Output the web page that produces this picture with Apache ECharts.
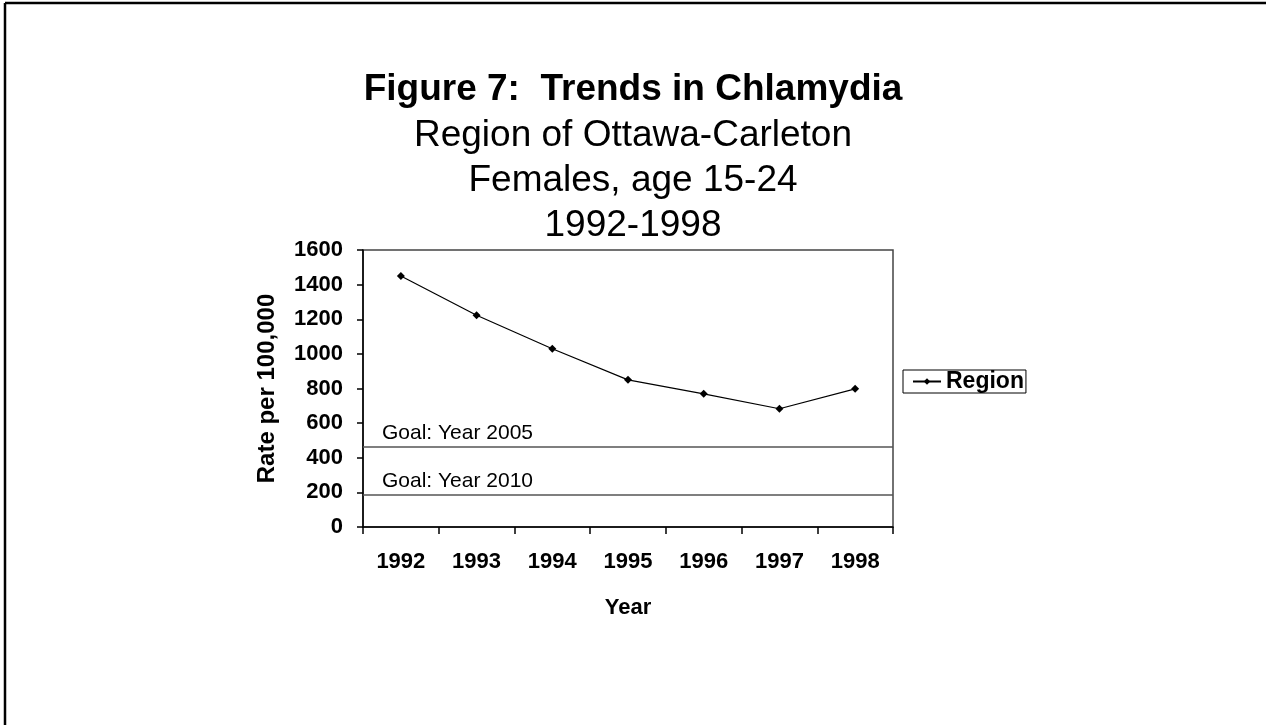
<!DOCTYPE html>
<html>
<head>
<meta charset="utf-8">
<script src="https://cdn.jsdelivr.net/npm/echarts@6/dist/echarts.min.js"></script>
<style>
  html, body { margin: 0; padding: 0; background: #fff; }
  #chart { width: 1266px; height: 725px; }
</style>
</head>
<body>
<div id="chart"></div>
<script>
// Chlamydia rates, females 15-24, Region of Ottawa-Carleton
const years = ['1992', '1993', '1994', '1995', '1996', '1997', '1998'];
const regionRates = [1450, 1223, 1030, 850, 769, 683, 798];
const goalValues = [465, 186];
const goalLabels = ['Goal: Year 2005', 'Goal: Year 2010'];
const yTicks = { min: 0, max: 1600, interval: 200 };

const FONT = '"Liberation Sans", Arial, sans-serif';
const chart = echarts.init(document.getElementById('chart'));

chart.setOption({
  backgroundColor: '#fff',
  animation: false,
  title: [
    { text: 'Figure 7:  Trends in Chlamydia', left: 'center', top: 67, padding: 0,
      textStyle: { fontFamily: FONT, fontSize: 37, fontWeight: 'bold', color: '#000', lineHeight: 45 } },
    { text: 'Region of Ottawa-Carleton\nFemales, age 15-24\n1992-1998', left: 'center', top: 113, padding: 0,
      textStyle: { fontFamily: FONT, fontSize: 37, fontWeight: 'normal', color: '#000', lineHeight: 45 } }
  ],
  graphic: [
    { type: 'line', shape: { x1: 5, y1: 3, x2: 1266, y2: 3 }, style: { stroke: '#000', lineWidth: 2.5 } },
    { type: 'line', shape: { x1: 5, y1: 3, x2: 5, y2: 725 }, style: { stroke: '#000', lineWidth: 2.5 } }
  ],
  legend: {
    left: 903, top: 370,
    orient: 'vertical',
    data: ['Region'],
    borderColor: '#000', borderWidth: 1,
    padding: [0, 2, 0, 9],
    itemWidth: 28, itemHeight: 8,
    textStyle: { fontFamily: FONT, fontSize: 23, fontWeight: 'bold', color: '#000', lineHeight: 23 }
  },
  grid: { left: 363, top: 250, right: 373, bottom: 198, show: true,
    borderColor: '#444', borderWidth: 1.5, backgroundColor: '#fff' },
  xAxis: {
    type: 'category', data: years, boundaryGap: true,
    name: 'Year', nameLocation: 'middle', nameGap: 70,
    nameTextStyle: { fontFamily: FONT, fontSize: 22, fontWeight: 'bold', color: '#000' },
    axisLine: { lineStyle: { color: '#000', width: 1.5 } },
    axisTick: { show: true, length: 7, lineStyle: { color: '#000', width: 1.5 } },
    axisLabel: { fontFamily: FONT, fontSize: 22, fontWeight: 'bold', color: '#000', margin: 24 },
    splitLine: { show: false }
  },
  yAxis: {
    type: 'value', min: yTicks.min, max: yTicks.max, interval: yTicks.interval,
    name: 'Rate per 100,000', nameLocation: 'middle', nameGap: 84, nameRotate: 90,
    nameTextStyle: { fontFamily: FONT, fontSize: 24, fontWeight: 'bold', color: '#000' },
    axisLine: { show: true, lineStyle: { color: '#000', width: 1.5 } },
    axisTick: { show: true, length: 6, lineStyle: { color: '#000', width: 1.5 } },
    axisLabel: { fontFamily: FONT, fontSize: 22, fontWeight: 'bold', color: '#000', margin: 20,
      formatter: v => String(v) },
    splitLine: { show: false }
  },
  series: [{
    name: 'Region', type: 'line', data: regionRates,
    symbol: 'diamond', symbolSize: 8,
    itemStyle: { color: '#000' },
    lineStyle: { color: '#000', width: 1.2 },
    markLine: {
      silent: true, symbol: 'none',
      lineStyle: { color: '#555', width: 1.6, type: 'solid' },
      label: {
        show: true, position: 'insideStartTop', distance: [19, 3],
        fontFamily: FONT, fontSize: 21, color: '#000',
        formatter: p => goalLabels[p.dataIndex]
      },
      data: goalValues.map(v => ({ yAxis: v }))
    }
  }]
});
</script>
</body>
</html>
